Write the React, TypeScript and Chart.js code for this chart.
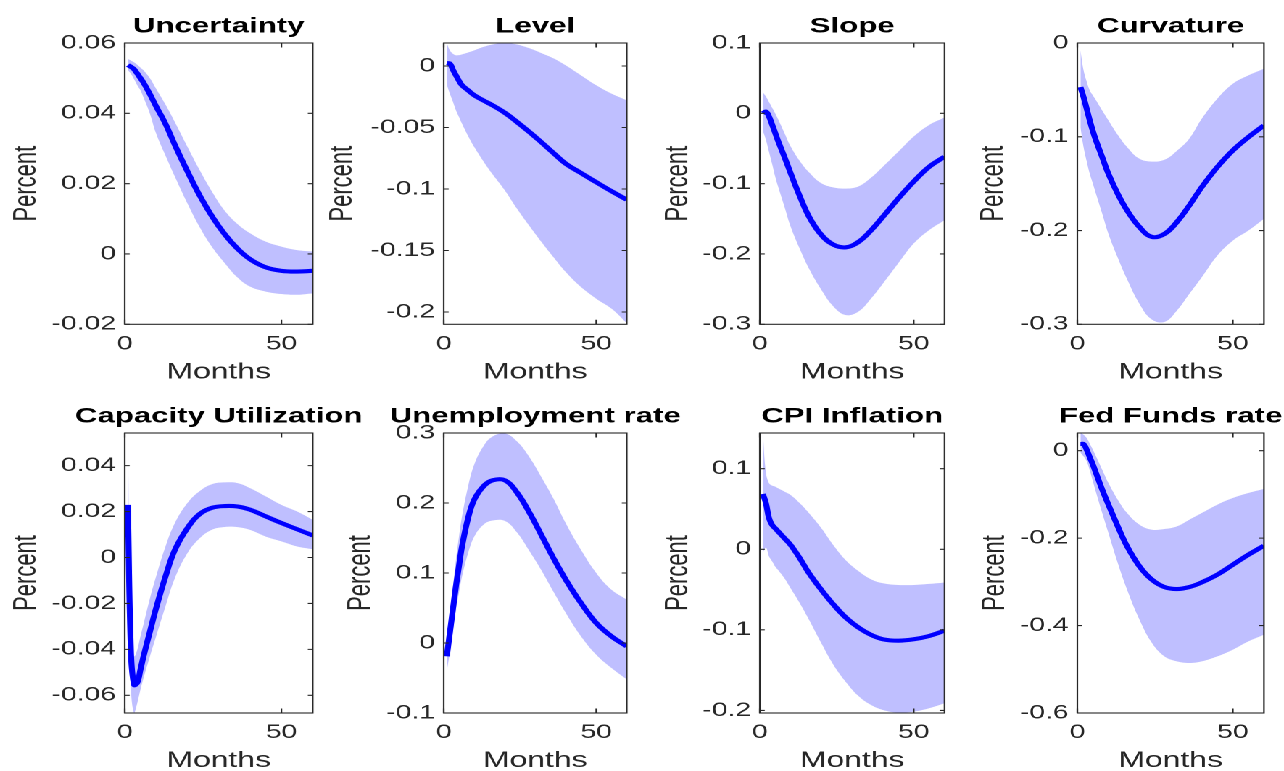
import React, { useEffect, useRef } from "react";
import { Chart, registerables } from "chart.js";

Chart.register(...registerables);

// ---------------- DATA ----------------
const months = [1, 2, 3, 4, 5, 6, 8, 10, 13, 16, 20, 24, 28, 32, 36, 40, 45, 50, 55, 60];

const titles = [
  "Uncertainty",
  "Level",
  "Slope",
  "Curvature",
  "Capacity Utilization",
  "Unemployment rate",
  "CPI Inflation",
  "Fed Funds rate",
];

const uncertaintyMean = [0.0537, 0.0532, 0.0525, 0.0513, 0.05, 0.0487, 0.0455, 0.042, 0.037, 0.031, 0.0235, 0.0165, 0.0105, 0.0055, 0.0015, -0.0015, -0.0038, -0.0048, -0.005, -0.0048];
const uncertaintyUpper = [0.0555, 0.055, 0.0545, 0.0538, 0.053, 0.0522, 0.05, 0.047, 0.0425, 0.0375, 0.0305, 0.0237, 0.0175, 0.0122, 0.0085, 0.0059, 0.0035, 0.0021, 0.0011, 0.0007];
const uncertaintyLower = [0.0523, 0.0512, 0.0497, 0.048, 0.0466, 0.0445, 0.04, 0.0343, 0.028, 0.022, 0.0144, 0.0075, 0.0018, -0.0027, -0.0067, -0.0093, -0.0107, -0.0114, -0.0116, -0.0112];

const levelMean = [0.0024, 0.002, -0.003, -0.0076, -0.012, -0.0157, -0.0198, -0.0238, -0.028, -0.032, -0.038, -0.0455, -0.0535, -0.062, -0.0708, -0.0794, -0.087, -0.0945, -0.1018, -0.1087];
const levelUpper = [0.0187, 0.0127, 0.01, 0.0087, 0.0088, 0.0095, 0.011, 0.0127, 0.0155, 0.0175, 0.0187, 0.0175, 0.0145, 0.0105, 0.0062, 0.0005, -0.0076, -0.0157, -0.0225, -0.0279];
const levelLower = [-0.015, -0.0225, -0.029, -0.036, -0.0415, -0.047, -0.057, -0.0659, -0.0775, -0.088, -0.101, -0.116, -0.1298, -0.143, -0.1555, -0.1675, -0.1797, -0.1892, -0.1973, -0.209];

const slopeMean = [0.0, 0.0024, -0.0047, -0.016, -0.028, -0.04, -0.062, -0.085, -0.118, -0.147, -0.173, -0.187, -0.1905, -0.183, -0.167, -0.147, -0.121, -0.097, -0.076, -0.0616];
const slopeUpper = [0.03, 0.0237, 0.016, 0.008, 0.0, -0.009, -0.028, -0.047, -0.068, -0.084, -0.0995, -0.1055, -0.107, -0.104, -0.092, -0.0758, -0.0545, -0.033, -0.0166, -0.006];
const slopeLower = [-0.025, -0.038, -0.055, -0.072, -0.09, -0.105, -0.1327, -0.161, -0.193, -0.221, -0.251, -0.275, -0.287, -0.282, -0.264, -0.242, -0.213, -0.185, -0.166, -0.152];

const curvatureMean = [-0.047, -0.0577, -0.07, -0.0826, -0.094, -0.104, -0.1217, -0.1395, -0.1609, -0.1786, -0.1964, -0.2068, -0.2036, -0.191, -0.1733, -0.1537, -0.1324, -0.1146, -0.1004, -0.0879];
const curvatureUpper = [-0.0078, -0.029, -0.041, -0.0505, -0.056, -0.061, -0.072, -0.0826, -0.098, -0.111, -0.1235, -0.1265, -0.1245, -0.115, -0.102, -0.0808, -0.0594, -0.0434, -0.0345, -0.0274];
const curvatureLower = [-0.09, -0.111, -0.126, -0.1395, -0.15, -0.1609, -0.182, -0.2036, -0.229, -0.252, -0.2783, -0.295, -0.2975, -0.2854, -0.2676, -0.2498, -0.2267, -0.2107, -0.2, -0.1875];

const capacityMean = [0.0229, -0.042, -0.0555, -0.0545, -0.0489, -0.043, -0.0325, -0.0221, -0.0083, 0.0033, 0.0128, 0.019, 0.0217, 0.0224, 0.0222, 0.0208, 0.0179, 0.015, 0.0123, 0.0096];
const capacityUpper = [0.0542, -0.0373, -0.043, -0.0402, -0.0344, -0.029, -0.018, -0.0083, 0.0048, 0.015, 0.0237, 0.029, 0.032, 0.0327, 0.0324, 0.0302, 0.0266, 0.0229, 0.02, 0.0164];
const capacityLower = [0.0, -0.0576, -0.0677, -0.0634, -0.0576, -0.0525, -0.0432, -0.0344, -0.0213, -0.009, 0.0019, 0.0085, 0.0122, 0.0133, 0.0132, 0.012, 0.0091, 0.007, 0.0048, 0.0036];

const unemploymentMean = [-0.019, 0.0143, 0.048, 0.081, 0.11, 0.138, 0.1786, 0.2048, 0.2238, 0.2324, 0.2325, 0.215, 0.187, 0.1543, 0.121, 0.0905, 0.0571, 0.0286, 0.0095, -0.0048];
const unemploymentUpper = [0.0, 0.038, 0.08, 0.119, 0.152, 0.181, 0.224, 0.255, 0.281, 0.295, 0.2995, 0.288, 0.266, 0.237, 0.206, 0.171, 0.133, 0.1, 0.076, 0.062];
const unemploymentLower = [-0.0405, -0.014, 0.017, 0.0476, 0.072, 0.095, 0.1286, 0.152, 0.169, 0.175, 0.1745, 0.158, 0.132, 0.104, 0.073, 0.043, 0.0095, -0.0167, -0.0357, -0.052];

const cpiMean = [0.0687, 0.057, 0.0385, 0.0302, 0.026, 0.0219, 0.0137, 0.0054, -0.0112, -0.0298, -0.0505, -0.069, -0.085, -0.097, -0.106, -0.1117, -0.1134, -0.1117, -0.1076, -0.101];
const cpiUpper = [0.1443, 0.095, 0.082, 0.079, 0.0778, 0.0755, 0.0716, 0.0674, 0.0571, 0.0447, 0.0261, 0.0045, -0.014, -0.027, -0.037, -0.0422, -0.0443, -0.0443, -0.043, -0.0414];
const cpiLower = [-0.004, 0.002, -0.009, -0.015, -0.0215, -0.026, -0.036, -0.0484, -0.067, -0.0877, -0.1167, -0.144, -0.165, -0.182, -0.193, -0.1994, -0.2027, -0.2015, -0.1973, -0.1911];

const fedMean = [0.0152, 0.0152, 0.0023, -0.015, -0.032, -0.051, -0.089, -0.1235, -0.173, -0.2188, -0.2646, -0.2951, -0.3119, -0.3164, -0.3119, -0.3012, -0.2836, -0.2608, -0.2379, -0.2173];
const fedUpper = [0.0404, 0.0366, 0.029, 0.016, 0.0023, -0.013, -0.0435, -0.074, -0.1121, -0.1426, -0.1693, -0.1807, -0.1792, -0.1731, -0.1578, -0.1426, -0.1235, -0.1083, -0.0968, -0.0877];
const fedLower = [-0.005, -0.013, -0.024, -0.045, -0.07, -0.095, -0.1426, -0.1883, -0.257, -0.318, -0.3866, -0.44, -0.4705, -0.482, -0.4857, -0.482, -0.4705, -0.4552, -0.4362, -0.421];

const xTicks = [0, 50];
const xTickLabels = ["0", "50"];
const xMin = 0;
const xMax = 60;

const yTicks = [
  [-0.02, 0, 0.02, 0.04, 0.06],
  [-0.2, -0.15, -0.1, -0.05, 0],
  [-0.3, -0.2, -0.1, 0, 0.1],
  [-0.3, -0.2, -0.1, 0],
  [-0.06, -0.04, -0.02, 0, 0.02, 0.04],
  [-0.1, 0, 0.1, 0.2, 0.3],
  [-0.2, -0.1, 0, 0.1],
  [-0.6, -0.4, -0.2, 0],
];
const yTickLabels = [
  ["-0.02", "0", "0.02", "0.04", "0.06"],
  ["-0.2", "-0.15", "-0.1", "-0.05", "0"],
  ["-0.3", "-0.2", "-0.1", "0", "0.1"],
  ["-0.3", "-0.2", "-0.1", "0"],
  ["-0.06", "-0.04", "-0.02", "0", "0.02", "0.04"],
  ["-0.1", "0", "0.1", "0.2", "0.3"],
  ["-0.2", "-0.1", "0", "0.1"],
  ["-0.6", "-0.4", "-0.2", "0"],
];
const yMins = [-0.02, -0.21, -0.3, -0.3, -0.0677, -0.1, -0.2032, -0.6];
const yMaxs = [0.06, 0.0187, 0.1, 0, 0.0542, 0.3, 0.1443, 0.0405];

const means = [uncertaintyMean, levelMean, slopeMean, curvatureMean, capacityMean, unemploymentMean, cpiMean, fedMean];
const uppers = [uncertaintyUpper, levelUpper, slopeUpper, curvatureUpper, capacityUpper, unemploymentUpper, cpiUpper, fedUpper];
const lowers = [uncertaintyLower, levelLower, slopeLower, curvatureLower, capacityLower, unemploymentLower, cpiLower, fedLower];

const yAxisTitle = "Percent";
const xAxisTitle = "Months";

// ---------------- LAYOUT / STYLE ----------------
const S = 1.45; // horizontal stretch of the figure
const FONT = "'Liberation Sans', Arial, Helvetica, sans-serif";
const AXIS_COLOR = "#262626";
const BAND_COLOR = "rgb(191,191,255)";
const LINE_COLOR = "rgb(0,0,255)";

const COL_L = [124, 444, 759.3, 1076.7];
const COL_R = [312, 627, 944, 1263.3];
const ROW_T = [42.7, 433.3];
const ROW_B = [324, 713.3];
const YLABEL_DIST = [98, 100.7, 81, 83.7, 98, 83, 81, 82];

const LW = 85; // y-axis band width (unscaled)
const RP = 70;
const TT = 42;
const BB = 62;
const MONTHS_OFFSET = 48;
const TICK_FONT = 19.5;
const LABEL_FONT = 22;
const TITLE_FONT = 21.5;
const TENSION = 0.4;

function geom(i: number) {
  const r = Math.floor(i / 4);
  const c = i % 4;
  const bl = COL_L[c] / S;
  const br = COL_R[c] / S;
  const bt = ROW_T[r];
  const bb = ROW_B[r];
  const bw = br - bl;
  const bh = bb - bt;
  const width = Math.ceil(LW + bw + RP);
  const height = Math.ceil(TT + bh + BB);
  return {
    left: bl - LW,
    top: bt - TT,
    width,
    height,
    padRight: width - LW - bw,
    padBottom: height - TT - bh - BB,
  };
}

const framePlugin = {
  id: "matlabFrame",
  afterDatasetsDraw(chart: any, _args: any, opts: any) {
    const { ctx, chartArea: a, scales } = chart;
    ctx.save();
    ctx.strokeStyle = AXIS_COLOR;
    ctx.lineWidth = 1.1;
    ctx.strokeRect(a.left, a.top, a.right - a.left, a.bottom - a.top);
    const th = 3.4;
    const tv = 4.5;
    ctx.beginPath();
    for (const t of scales.y.ticks) {
      const p = scales.y.getPixelForValue(t.value);
      ctx.moveTo(a.left, p);
      ctx.lineTo(a.left + th, p);
      ctx.moveTo(a.right, p);
      ctx.lineTo(a.right - th, p);
    }
    for (const t of scales.x.ticks) {
      const p = scales.x.getPixelForValue(t.value);
      ctx.moveTo(p, a.bottom);
      ctx.lineTo(p, a.bottom - tv);
      ctx.moveTo(p, a.top);
      ctx.lineTo(p, a.top + tv);
    }
    ctx.stroke();
    // panel title
    ctx.fillStyle = "#000";
    ctx.font = `bold ${TITLE_FONT}px ${FONT}`;
    ctx.textAlign = "center";
    ctx.textBaseline = "alphabetic";
    ctx.fillText(opts.title, (a.left + a.right) / 2, a.top - 10.5);
    ctx.restore();
  },
};

function Panel({ index }: { index: number }) {
  const ref = useRef<HTMLCanvasElement | null>(null);
  const g = geom(index);
  useEffect(() => {
    if (!ref.current) return;
    const toPts = (arr: number[]) => months.map((m, k) => ({ x: m, y: arr[k] }));
    const titlePadTop = LW - YLABEL_DIST[index] / S - (LABEL_FONT * 1.2) / 2;
    const chart = new Chart(ref.current, {
      type: "line",
      data: {
        datasets: [
          {
            data: toPts(lowers[index]),
            order: 2,
            borderWidth: 0,
            pointRadius: 0,
            fill: false,
            tension: TENSION,
            backgroundColor: BAND_COLOR,
            borderColor: "rgba(0,0,0,0)",
          },
          {
            data: toPts(uppers[index]),
            order: 2,
            borderWidth: 0,
            pointRadius: 0,
            fill: "-1",
            tension: TENSION,
            backgroundColor: BAND_COLOR,
            borderColor: "rgba(0,0,0,0)",
          },
          {
            data: toPts(means[index]),
            order: 0,
            borderWidth: 4.1,
            pointRadius: 0,
            fill: false,
            tension: TENSION,
            borderColor: LINE_COLOR,
            borderCapStyle: "butt",
            borderJoinStyle: "round",
          },
        ],
      },
      options: {
        animation: false,
        responsive: true,
        maintainAspectRatio: false,
        devicePixelRatio: 2,
        events: [],
        layout: { padding: { top: TT, left: 0, right: g.padRight, bottom: g.padBottom } },
        plugins: {
          legend: { display: false },
          tooltip: { enabled: false },
          title: { display: false },
          filler: { drawTime: "beforeDatasetsDraw" },
          matlabFrame: { title: titles[index] },
        } as any,
        scales: {
          x: {
            type: "linear",
            min: xMin,
            max: xMax,
            grid: { display: false, drawTicks: false },
            border: { display: false },
            afterBuildTicks: (s: any) => {
              s.ticks = xTicks.map((v) => ({ value: v }));
            },
            afterFit: (s: any) => {
              s.height = BB;
            },
            ticks: {
              autoSkip: false,
              maxRotation: 0,
              padding: 8,
              color: AXIS_COLOR,
              font: { family: FONT, size: TICK_FONT },
              callback: (_v: any, i: number) => xTickLabels[i],
            },
            title: {
              display: true,
              text: xAxisTitle,
              color: AXIS_COLOR,
              font: { family: FONT, size: LABEL_FONT },
              padding: { top: 0, bottom: BB - MONTHS_OFFSET - (LABEL_FONT * 1.2) / 2 },
            },
          },
          y: {
            type: "linear",
            min: yMins[index],
            max: yMaxs[index],
            grid: { display: false, drawTicks: false },
            border: { display: false },
            afterBuildTicks: (s: any) => {
              s.ticks = yTicks[index].map((v) => ({ value: v }));
            },
            afterFit: (s: any) => {
              s.width = LW;
            },
            ticks: {
              autoSkip: false,
              padding: 6,
              color: AXIS_COLOR,
              font: { family: FONT, size: TICK_FONT },
              callback: (_v: any, i: number) => yTickLabels[index][i],
            },
            title: {
              display: true,
              text: yAxisTitle,
              color: AXIS_COLOR,
              font: { family: FONT, size: LABEL_FONT },
              padding: { top: titlePadTop, bottom: 0 },
            },
          },
        },
      } as any,
      plugins: [framePlugin as any],
    });
    return () => chart.destroy();
  }, [index]);
  return (
    <div
      style={{
        position: "absolute",
        left: g.left,
        top: g.top,
        width: g.width,
        height: g.height,
      }}
    >
      <canvas ref={ref} />
    </div>
  );
}

export default function App() {
  return (
    <div
      style={{
        position: "fixed",
        left: 0,
        top: 0,
        width: 1284,
        height: 771,
        overflow: "hidden",
        background: "#fff",
      }}
    >
      <div
        style={{
          position: "absolute",
          left: 0,
          top: 0,
          width: 1284 / S,
          height: 771,
          transform: `scaleX(${S})`,
          transformOrigin: "0 0",
        }}
      >
        {titles.map((_, i) => (
          <Panel key={i} index={i} />
        ))}
      </div>
    </div>
  );
}
